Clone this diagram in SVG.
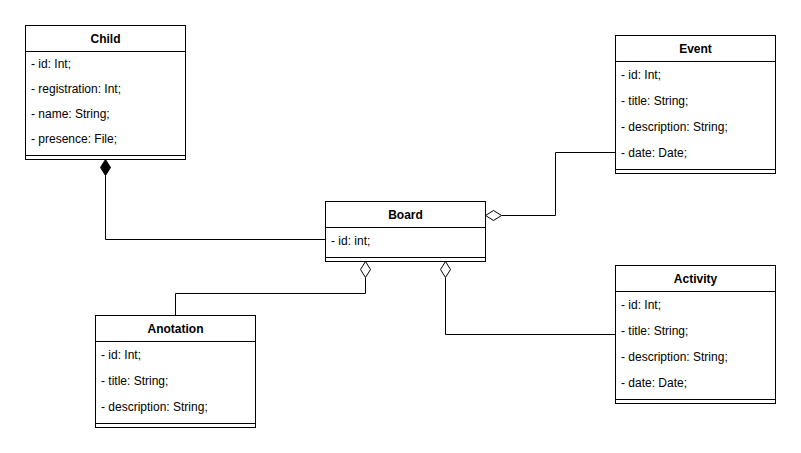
<svg xmlns="http://www.w3.org/2000/svg" width="801" height="453" viewBox="0 0 801 453">
<style>
.box{fill:#fff;stroke:#000;stroke-width:1}
.ln{fill:none;stroke:#000;stroke-width:1}
.t{font-family:"Liberation Sans",Arial,sans-serif;font-size:12px;fill:#000}
.h{font-family:"Liberation Sans",Arial,sans-serif;font-size:12px;font-weight:bold;fill:#000;text-anchor:middle}
.od{fill:#fff;stroke:#000;stroke-width:1}
.fd{fill:#000;stroke:#000;stroke-width:1}
</style>
<rect width="801" height="453" fill="#fff"/>
<g id="connectors">
<path class="ln" d="M105.5 175.5 V239.5 H325.5"/>
<polygon class="fd" points="105.5,159.5 110.5,167.5 105.5,175.5 100.5,167.5"/>
<path class="ln" d="M501.5 215.5 H555.5 V152.5 H615.5"/>
<polygon class="od" points="485.5,215.5 493.5,210.5 501.5,215.5 493.5,220.5"/>
<path class="ln" d="M365.5 277.5 V293.5 H175.5 V315.5"/>
<polygon class="od" points="365.5,261.5 370.5,269.5 365.5,277.5 360.5,269.5"/>
<path class="ln" d="M445.5 277.5 V334.5 H615.5"/>
<polygon class="od" points="445.5,261.5 450.5,269.5 445.5,277.5 440.5,269.5"/>
</g>
<g id="child">
<rect class="box" x="25.5" y="25.5" width="160" height="134"/>
<path class="ln" d="M25.5 51.5 H185.5 M25.5 155.5 H185.5"/>
<text class="h" x="105.5" y="42.5">Child</text>
<text class="t" x="31" y="68">- id: Int;</text>
<text class="t" x="31" y="93">- registration: Int;</text>
<text class="t" x="31" y="118">- name: String;</text>
<text class="t" x="31" y="143">- presence: File;</text>
</g>
<g id="event">
<rect class="box" x="615.5" y="35.5" width="160" height="138"/>
<path class="ln" d="M615.5 61.5 H775.5 M615.5 169.5 H775.5"/>
<text class="h" x="695.5" y="52.5">Event</text>
<text class="t" x="621" y="78.5">- id: Int;</text>
<text class="t" x="621" y="104.5">- title: String;</text>
<text class="t" x="621" y="130.5">- description: String;</text>
<text class="t" x="621" y="156.5">- date: Date;</text>
</g>
<g id="board">
<rect class="box" x="325.5" y="201.5" width="160" height="60"/>
<path class="ln" d="M325.5 227.5 H485.5 M325.5 257.5 H485.5"/>
<text class="h" x="405.5" y="218.5">Board</text>
<text class="t" x="331" y="244.5">- id: int;</text>
</g>
<g id="anotation">
<rect class="box" x="95.5" y="315.5" width="160" height="112"/>
<path class="ln" d="M95.5 341.5 H255.5 M95.5 423.5 H255.5"/>
<text class="h" x="175.5" y="332.5">Anotation</text>
<text class="t" x="101" y="358.5">- id: Int;</text>
<text class="t" x="101" y="384.5">- title: String;</text>
<text class="t" x="101" y="410.5">- description: String;</text>
</g>
<g id="activity">
<rect class="box" x="615.5" y="265.5" width="160" height="138"/>
<path class="ln" d="M615.5 291.5 H775.5 M615.5 399.5 H775.5"/>
<text class="h" x="695.5" y="282.5">Activity</text>
<text class="t" x="621" y="308.5">- id: Int;</text>
<text class="t" x="621" y="334.5">- title: String;</text>
<text class="t" x="621" y="360.5">- description: String;</text>
<text class="t" x="621" y="386.5">- date: Date;</text>
</g>
</svg>
